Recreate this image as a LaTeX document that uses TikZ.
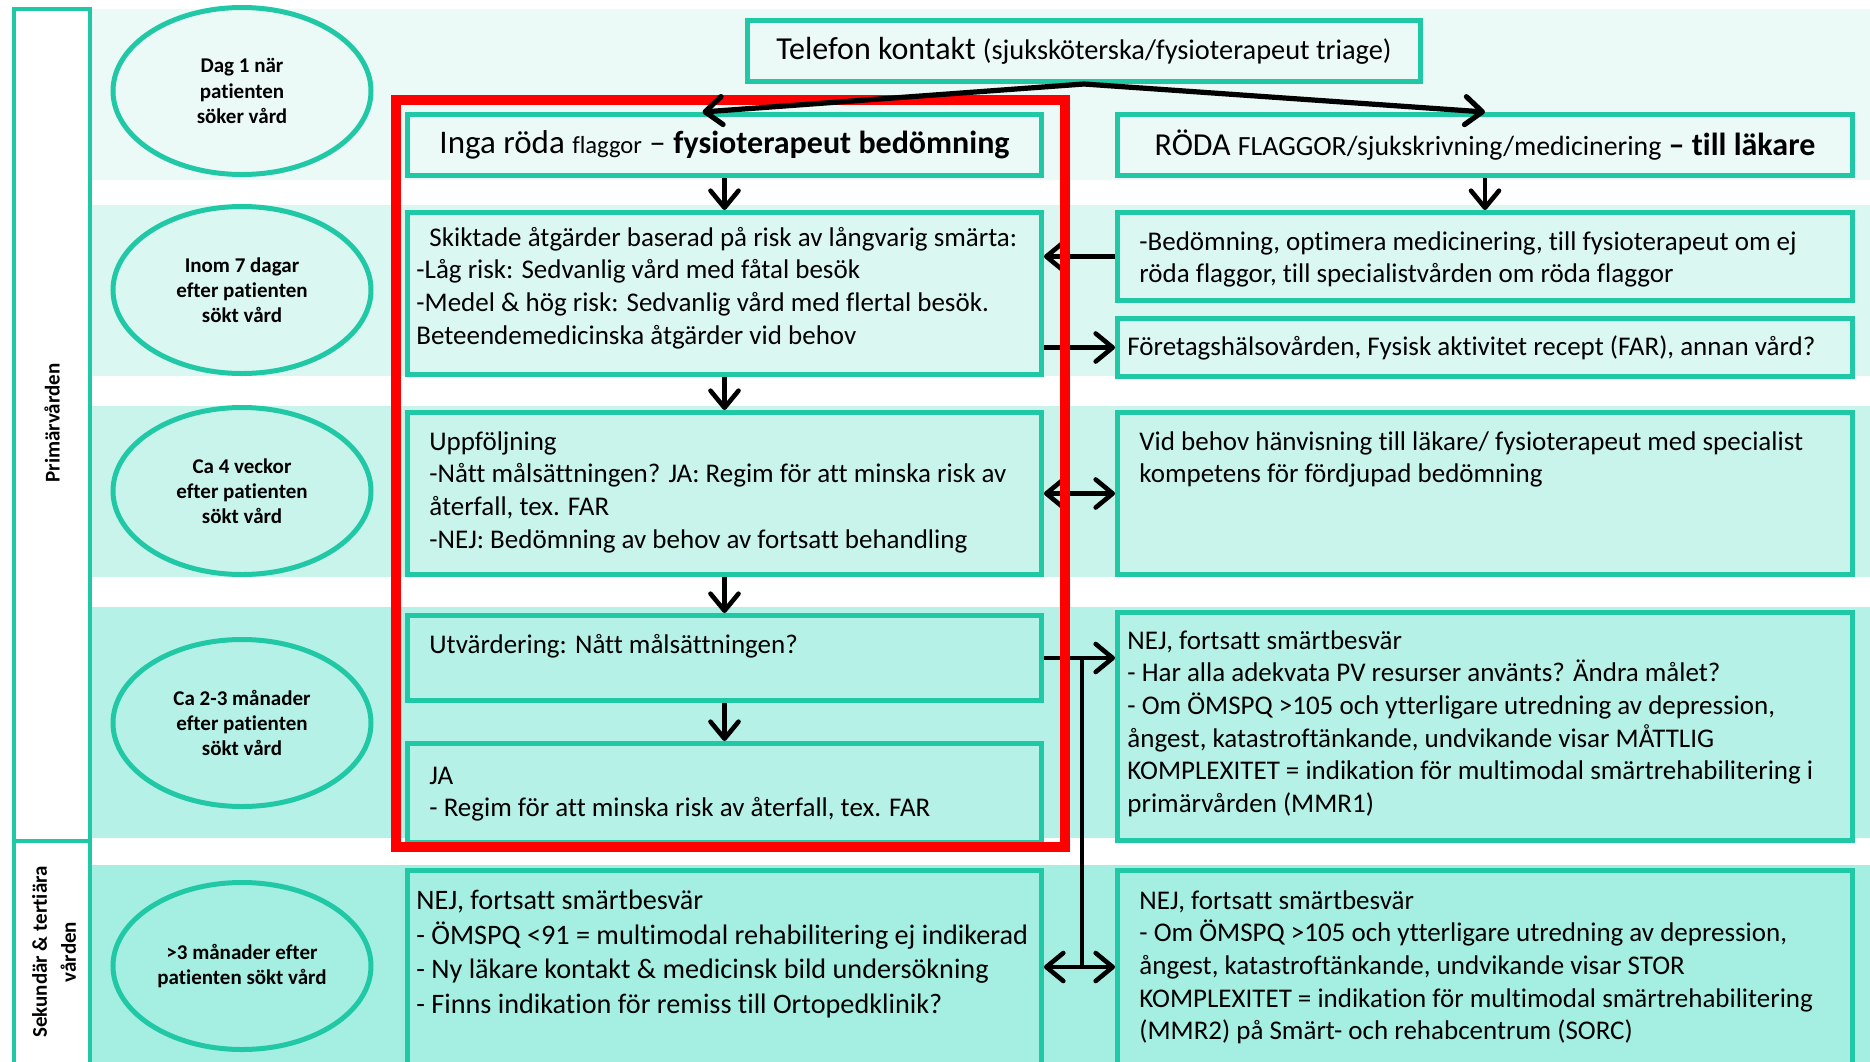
\documentclass[tikz,border=0pt]{standalone}
\usepackage{fontspec}
\setmainfont{Carlito}[Ligatures=NoCommon]
\usetikzlibrary{positioning,arrows.meta,shapes.geometric}
\definecolor{tealc}{RGB}{32,200,166}
\definecolor{bandA}{RGB}{235,250,246}
\definecolor{bandB}{RGB}{218,247,241}
\definecolor{bandC}{RGB}{200,244,236}
\definecolor{bandD}{RGB}{182,241,231}
\definecolor{bandE}{RGB}{165,238,226}
\definecolor{redc}{RGB}{255,0,0}
\tikzset{
  lanebox/.style={draw=tealc,line width=2pt},
  phase/.style={ellipse,draw=tealc,line width=2.5pt,minimum width=129pt,minimum height=83.5pt,
    inner sep=0pt,align=center,font=\bfseries\fontsize{10.5}{12.6}\selectfont},
  stepbox/.style={draw=tealc,line width=2.5pt,inner sep=0pt,anchor=north west},
  lbox/.style={stepbox,minimum width=317pt},
  rbox/.style={stepbox,minimum width=367.5pt},
  boxtxt/.style={anchor=north west,inner sep=0pt,align=left,font=\fontsize{13.5}{16.3}\selectfont},
  flow/.style={-{Straight Barb[length=8.5pt,width=14pt,round]},line width=2.3pt},
  flowtwo/.style={{Straight Barb[length=8.5pt,width=14pt,round]}-{Straight Barb[length=8.5pt,width=14pt,round]},line width=2.3pt},
}
\begin{document}
\begin{tikzpicture}[x=0.5pt,y=-0.5pt]
  \clip (0,0) rectangle (1870,1061);
  % time bands
  \fill[bandA] (91,9) rectangle (1870,180);
  \fill[bandB] (91,205) rectangle (1870,376);
  \fill[bandC] (91,406) rectangle (1870,577);
  \fill[bandD] (91,607) rectangle (1870,838);
  \fill[bandE] (91,865) rectangle (1870,1100);
  % care levels
  \draw[lanebox] (14,9) rectangle (90,841);
  \draw[lanebox] (14,841) rectangle (90,1100);
  \node[rotate=90,font=\bfseries\fontsize{10.5}{12}\selectfont] (prim) at (52,423) {Primärvården};
  \node[rotate=90,align=center,font=\bfseries\fontsize{10.5}{14.5}\selectfont] (sek) at (54,952) {Sekundär \& tertiära\\vården};
  % when
  \node[phase] (dag1) at (242,91) {Dag 1 när\\patienten\\söker vård};
  \node[phase] (dag7) at (242,290) {Inom 7 dagar\\efter patienten\\sökt vård};
  \node[phase] (v4) at (242,491) {Ca 4 veckor\\efter patienten\\sökt vård};
  \node[phase] (m23) at (242,723) {Ca 2-3 månader\\efter patienten\\sökt vård};
  \node[phase] (m3) at (242,966) {>3 månader efter\\patienten sökt vård};
  % boxes
  \node[stepbox,fill=bandA,minimum width=336.5pt,minimum height=30.5pt,font=\fontsize{16}{19}\selectfont] (tel) at (745,18)
    {Telefon kontakt {\fontsize{14.2}{17}\selectfont(sjuksköterska/fysioterapeut triage)}};
  \node[lbox,fill=bandA,minimum height=30.5pt,font=\fontsize{16.5}{19}\selectfont] (fysio) at (405,112)
    {Inga röda {\fontsize{12.3}{15}\selectfont flaggor} – \textbf{\fontsize{16}{19}\selectfont fysioterapeut bedömning}};
  \node[rbox,fill=bandA,minimum height=30.5pt,font=\fontsize{16}{19}\selectfont] (lakare) at (1115,112)
    {RÖDA {\fontsize{13.9}{16}\selectfont FLAGGOR/sjukskrivning/medicinering} \textbf{– till läkare}};
  \node[lbox,fill=bandB,minimum height=81pt] (skikt) at (405,210) {};
  \node[rbox,fill=bandB,minimum height=44pt] (bedom) at (1115,210) {};
  \node[rbox,fill=bandB,minimum height=29pt] (foretag) at (1115,316) {};
  \node[lbox,fill=bandC,minimum height=81pt] (uppf) at (405,410) {};
  \node[rbox,fill=bandC,minimum height=81pt] (hanv) at (1115,410) {};
  \node[lbox,fill=bandD,minimum height=42.5pt] (utv) at (405,613) {};
  \node[lbox,fill=bandD,minimum height=49.5pt] (ja) at (405,741) {};
  \node[rbox,fill=bandD,minimum height=114pt] (nejpv) at (1115,610) {};
  \node[lbox,fill=bandE,minimum height=130pt] (nejort) at (405,868) {};
  \node[rbox,fill=bandE,minimum height=130pt] (nejsorc) at (1115,868) {};
  % box texts
  \node[boxtxt] (skikt-t) at ([shift={(11,13)}]skikt.north west)
    {\strut\hspace*{6.5pt}Skiktade åtgärder baserad på risk av långvarig smärta:\\
     -Låg risk: Sedvanlig vård med fåtal besök\\
     -Medel \& hög risk: Sedvanlig vård med flertal besök.\\
     Beteendemedicinska åtgärder vid behov};
  \node[boxtxt] (bedom-t) at ([shift={(24,17)}]bedom.north west)
    {\strut-Bedömning, optimera medicinering, till fysioterapeut om ej\\
     röda flaggor, till specialistvården om röda flaggor};
  \node[boxtxt,anchor=west] (foretag-t) at ([xshift=6pt]foretag.west)
    {Företagshälsovården, Fysisk aktivitet recept (FAR), annan vård?};
  \node[boxtxt] (uppf-t) at ([shift={(24,17)}]uppf.north west)
    {\strut Uppföljning\\
     -Nått målsättningen? JA: Regim för att minska risk av\\
     återfall, tex. FAR\\
     -NEJ: Bedömning av behov av fortsatt behandling};
  \node[boxtxt] (hanv-t) at ([shift={(24,17)}]hanv.north west)
    {\strut Vid behov hänvisning till läkare/ fysioterapeut med specialist\\
     kompetens för fördjupad bedömning};
  \node[boxtxt] (utv-t) at ([shift={(24,17)}]utv.north west)
    {\strut Utvärdering: Nått målsättningen?};
  \node[boxtxt] (ja-t) at ([shift={(24,20)}]ja.north west)
    {\strut JA\\
     - Regim för att minska risk av återfall, tex. FAR};
  \node[boxtxt] (nejpv-t) at ([shift={(12,16)}]nejpv.north west)
    {\strut NEJ, fortsatt smärtbesvär\\
     - Har alla adekvata PV resurser använts? Ändra målet?\\
     - Om ÖMSPQ >105 och ytterligare utredning av depression,\\
     ångest, katastroftänkande, undvikande visar MÅTTLIG\\
     KOMPLEXITET = indikation för multimodal smärtrehabilitering i\\
     primärvården (MMR1)};
  \node[boxtxt,font=\fontsize{14.1}{17.3}\selectfont] (nejort-t) at ([shift={(11,17)}]nejort.north west)
    {\strut NEJ, fortsatt smärtbesvär\\
     - ÖMSPQ <91 = multimodal rehabilitering ej indikerad\\
     - Ny läkare kontakt \& medicinsk bild undersökning\\
     - Finns indikation för remiss till Ortopedklinik?};
  \node[boxtxt] (nejsorc-t) at ([shift={(24,18)}]nejsorc.north west)
    {\strut NEJ, fortsatt smärtbesvär\\
     - Om ÖMSPQ >105 och ytterligare utredning av depression,\\
     ångest, katastroftänkande, undvikande visar STOR\\
     KOMPLEXITET = indikation för multimodal smärtrehabilitering\\
     (MMR2) på Smärt- och rehabcentrum (SORC)};
  % flow
  \draw[flow] (fysio.south) -- (skikt.north);
  \draw[flow] (lakare.south) -- (bedom.north);
  \draw[flow] (bedom.west) -- (bedom.west -| skikt.east);
  \draw[flow] (foretag.west -| skikt.east) -- (foretag.west);
  \draw[flow] (skikt.south) -- (uppf.north);
  \draw[flowtwo] (uppf.east) -- (uppf.east -| hanv.west);
  \draw[flow] (uppf.south) -- (utv.north);
  \draw[flow] (utv.south) -- (ja.north);
  \draw[flow] (utv.east) -- (utv.east -| nejpv.west);
  \coordinate (junc) at (1082,967);
  \draw[line width=2.3pt] (junc |- utv.east) -- (junc);
  \draw[flowtwo] (junc -| nejort.east) -- (junc -| nejsorc.west);
  % physio track
  \draw[redc,line width=5pt] (396,100) rectangle (1065,847);
  \draw[flow,line width=2.6pt] (tel.south) -- ([xshift=-11pt]fysio.north);
  \draw[flow,line width=2.6pt] (tel.south) -- (lakare.north);
\end{tikzpicture}
\end{document}
